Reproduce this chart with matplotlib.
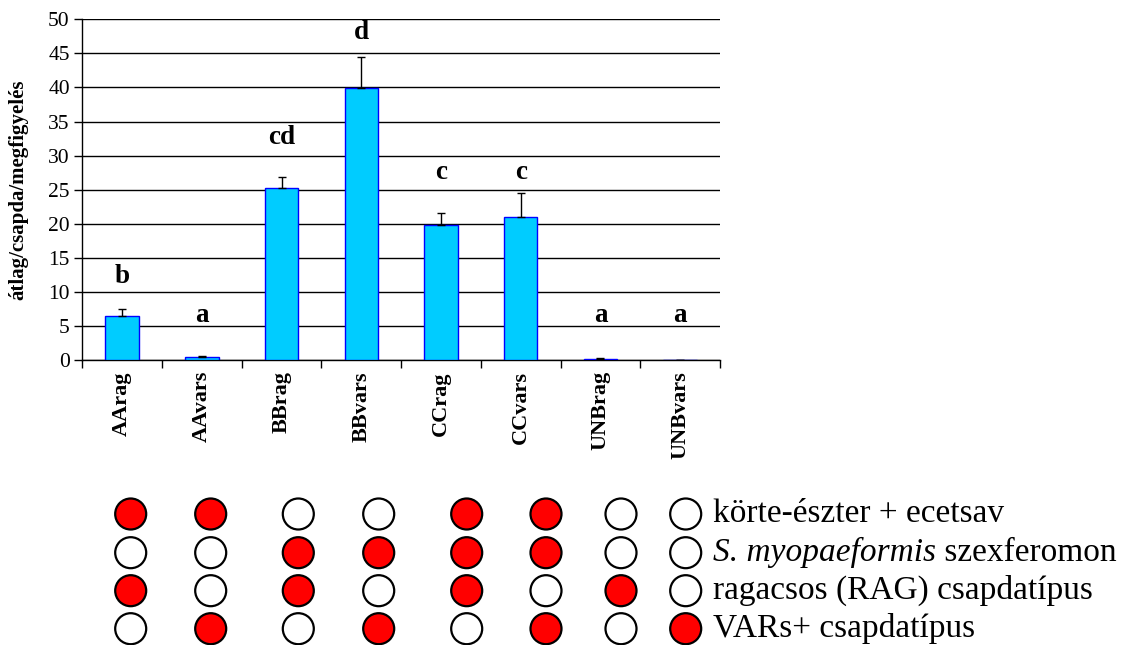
import matplotlib
matplotlib.use("Agg")
import matplotlib.pyplot as plt
import numpy as np

plt.rcParams['font.family'] = ['Liberation Serif', 'DejaVu Serif']

# treatments and trap catches (mean per trap per check, with SE)
categories = ["AArag", "AAvars", "BBrag", "BBvars", "CCrag", "CCvars", "UNBrag", "UNBvars"]
means = [6.5, 0.45, 25.3, 39.9, 19.8, 21.0, 0.2, 0.05]
errors = [1.0, 0.15, 1.6, 4.6, 1.7, 3.5, 0.05, 0.0]
letters = ["b", "a", "cd", "d", "c", "c", "a", "a"]
letter_y = [12.2, 6.6, 32.6, 48.0, 27.5, 27.5, 6.6, 6.6]

# bait / trap composition of each treatment (1 = present)
component_labels = ["körte-észter + ecetsav", "S. myopaeformis szexferomon",
                    "ragacsos (RAG) csapdatípus", "VARs+ csapdatípus"]
composition = [
    [1, 1, 0, 0, 1, 1, 0, 0],
    [0, 0, 1, 1, 1, 1, 0, 0],
    [1, 0, 1, 0, 1, 0, 1, 0],
    [0, 1, 0, 1, 0, 1, 0, 1],
]

W, H = 1138, 645
fig = plt.figure(figsize=(W / 100, H / 100), dpi=100)

ax = fig.add_axes([82.3 / W, 1 - 360 / H, (720 - 82.3) / W, (360 - 19.3) / H])
x = np.arange(len(categories))
ax.bar(x, means, width=0.42, color="#00CCFF", edgecolor="#0000FF", linewidth=1.0, zorder=3)
ax.errorbar(x, means, yerr=[np.zeros(len(errors)), errors], fmt="none",
            ecolor="black", elinewidth=1.0, capsize=3, capthick=1.0, zorder=4)
for xi, lab, ly in zip(x, letters, letter_y):
    ax.text(xi, ly, lab, ha="center", va="center", fontsize=19.5, fontweight="bold", zorder=5)

ax.set_xlim(-0.5, len(categories) - 0.5)
ax.set_ylim(0, 50)
ax.set_yticks(np.arange(0, 51, 5))
ax.yaxis.grid(True, color="black", linewidth=1.0, zorder=0)
ax.set_axisbelow(True)
for s in ["top", "right"]:
    ax.spines[s].set_visible(False)
ax.spines["left"].set_linewidth(1.0)
ax.spines["bottom"].set_linewidth(1.0)
ax.tick_params(axis="y", direction="out", length=6, width=1.0, labelsize=15.5, pad=3)

# category labels centred, ticks at category boundaries
ax.set_xticks(np.arange(-0.5, len(categories), 1.0))
ax.set_xticklabels([])
ax.tick_params(axis="x", direction="out", length=6, width=1.0)
ax.set_xticks(x, minor=True)
ax.set_xticklabels(categories, minor=True, rotation=90, fontsize=16, fontweight="bold")
ax.tick_params(axis="x", which="minor", length=0, pad=8)
ax.set_ylabel("átlag/csapda/megfigyelés", fontsize=15, fontweight="bold")
ax.yaxis.set_label_coords(-0.084, 0.5)

# composition matrix drawn as circles below the chart
ov = fig.add_axes([0, 0, 1, 1], facecolor="none")
ov.set_xlim(0, W)
ov.set_ylim(H, 0)
ov.axis("off")
col_x = [130.7, 210.7, 298.3, 378.7, 466.7, 546.0, 621.0, 685.7]
row_y = [514.0, 552.7, 590.7, 628.7]
for r, row in enumerate(composition):
    for c, on in enumerate(row):
        ov.add_patch(plt.Circle((col_x[c], row_y[r]), 15.5,
                                facecolor="#FF0000" if on else "white",
                                edgecolor="black", linewidth=1.6))

text_x = 713
fs = 24
for r, lab in enumerate(component_labels):
    yb = row_y[r] + 8
    if lab.startswith("S. myopaeformis"):
        t1 = ov.text(text_x, yb, "S. myopaeformis", fontsize=fs, style="italic", va="baseline")
        fig.canvas.draw()
        bb = t1.get_window_extent()
        ov.text(text_x + bb.width, yb, " szexferomon", fontsize=fs, va="baseline")
    else:
        ov.text(text_x, yb, lab, fontsize=fs, va="baseline")

fig.savefig("out.png", dpi=100, facecolor="white")
